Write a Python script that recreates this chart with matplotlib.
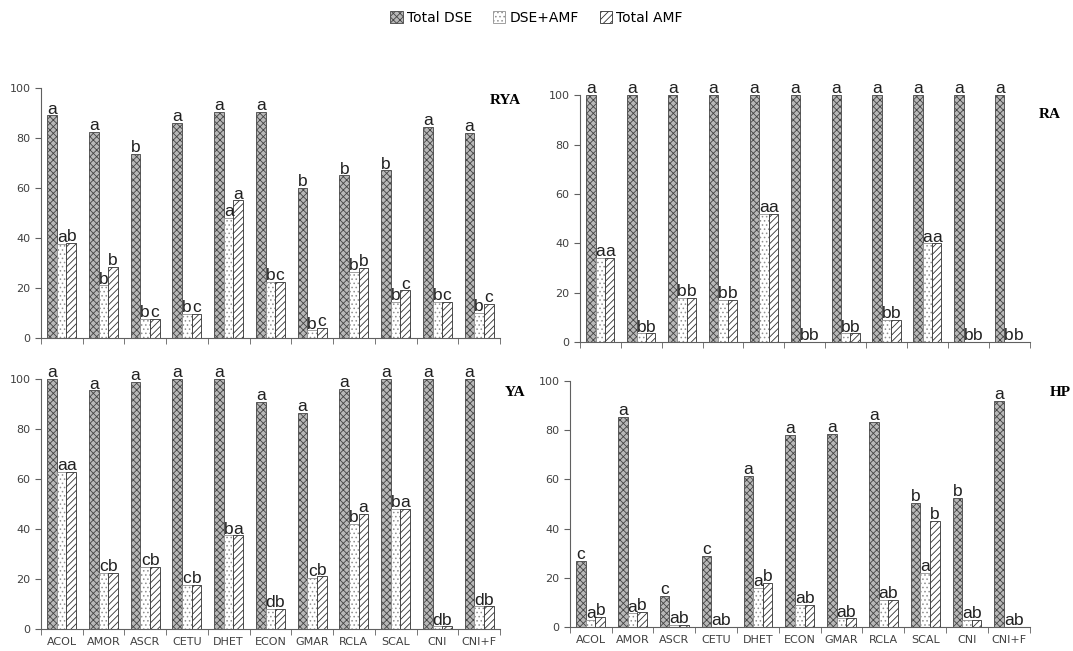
import matplotlib.pyplot as plt
import matplotlib.patches as mpatches
import numpy as np

plt.rcParams['hatch.linewidth'] = 0.6

species = ['ACOL', 'AMOR', 'ASCR', 'CETU', 'DHET', 'ECON', 'GMAR', 'RCLA', 'SCAL', 'CNI', 'CNI+F']
series = ['Total DSE', 'DSE+AMF', 'Total AMF']

# RYA
rya_dse = [89, 82.5, 73.5, 86, 90.5, 90.3, 60, 65, 67, 84.5, 82]
rya_both = [37.5, 21, 7.5, 9.5, 48, 22.5, 3, 26.5, 14.5, 14.3, 10]
rya_amf = [38, 28.5, 7.5, 9.5, 55, 22.5, 4, 28, 19, 14.3, 13.5]
rya_let_dse = ['a', 'a', 'b', 'a', 'a', 'a', 'b', 'b', 'b', 'a', 'a']
rya_let_both = ['a', 'b', 'b', 'b', 'a', 'b', 'b', 'b', 'b', 'b', 'b']
rya_let_amf = ['b', 'b', 'c', 'c', 'a', 'c', 'c', 'b', 'c', 'c', 'c']

# RA
ra_dse = [100, 100, 100, 100, 100, 100, 100, 100, 100, 100, 100]
ra_both = [34, 3.5, 18, 17, 52, 0, 3.5, 9, 40, 0, 0]
ra_amf = [34, 3.5, 18, 17, 52, 0, 3.5, 9, 40, 0, 0]
ra_let_dse = ['a'] * 11
ra_let_both = ['a', 'b', 'b', 'b', 'a', 'b', 'b', 'b', 'a', 'b', 'b']
ra_let_amf = ['a', 'b', 'b', 'b', 'a', 'b', 'b', 'b', 'a', 'b', 'b']

# YA
ya_dse = [100, 95.5, 99, 100, 100, 91, 86.5, 96, 100, 100, 100]
ya_both = [63, 22.5, 25, 17.5, 37.5, 8, 20.5, 42, 48, 1, 9]
ya_amf = [63, 22.5, 25, 17.5, 37.5, 8, 21, 46, 48, 1, 9]
ya_let_dse = ['a'] * 11
ya_let_both = ['a', 'c', 'c', 'c', 'b', 'd', 'c', 'b', 'b', 'd', 'd']
ya_let_amf = ['a', 'b', 'b', 'b', 'a', 'b', 'b', 'a', 'a', 'b', 'b']

# HP
hp_dse = [27, 85.5, 12.5, 29, 61.5, 78, 78.5, 83.5, 50.5, 52.5, 92]
hp_both = [3, 5.5, 1, 0, 16, 9, 3.5, 11, 22, 3, 0]
hp_amf = [4, 6, 1, 0, 18, 9, 3.5, 11, 43, 3, 0]
hp_let_dse = ['c', 'a', 'c', 'c', 'a', 'a', 'a', 'a', 'b', 'b', 'a']
hp_let_both = ['a'] * 11
hp_let_amf = ['b'] * 11

styles = [
    dict(facecolor='#b8b8b8', edgecolor='#454545', hatch='xxxxx'),
    dict(facecolor='white', edgecolor='#909090', hatch='....'),
    dict(facecolor='white', edgecolor='#303030', hatch='/////'),
]

fig = plt.figure(figsize=(10.73, 6.51), dpi=100)
positions = {
    'RYA': [0.038, 0.481, 0.428, 0.384],
    'RA': [0.5405, 0.4747, 0.419, 0.379],
    'YA': [0.038, 0.0338, 0.428, 0.384],
    'HP': [0.531, 0.0369, 0.4287, 0.378],
}
panels = [
    ('RYA', [rya_dse, rya_both, rya_amf], [rya_let_dse, rya_let_both, rya_let_amf], False, (505, 100)),
    ('RA', [ra_dse, ra_both, ra_amf], [ra_let_dse, ra_let_both, ra_let_amf], False, (1050, 115)),
    ('YA', [ya_dse, ya_both, ya_amf], [ya_let_dse, ya_let_both, ya_let_amf], True, (515, 392)),
    ('HP', [hp_dse, hp_both, hp_amf], [hp_let_dse, hp_let_both, hp_let_amf], True, (1060, 392)),
]

x = np.arange(len(species))
w = 0.23
for name, vals, lets, show_x, lab in panels:
    ax = fig.add_axes(positions[name])
    for k in range(3):
        xs = x + (k - 1) * w
        ax.bar(xs, vals[k], w, linewidth=0.6, **styles[k])
        for xi, v, t in zip(xs, vals[k], lets[k]):
            ax.text(xi, v - 0.5, t, ha='center', va='bottom', fontsize=12.5,
                    family='Liberation Sans', color='#202020', clip_on=False)
    ax.set_xlim(-0.5, len(species) - 0.5)
    ax.set_ylim(0, 100)
    ax.set_yticks(range(0, 101, 20))
    ax.set_xticks(x)
    ax.set_xticks(np.arange(-0.5, len(species), 1), minor=True)
    ax.tick_params(axis='x', which='major', length=0, pad=6)
    ax.tick_params(axis='x', which='minor', length=4, color='#606060')
    ax.tick_params(axis='y', length=4, color='#606060', labelsize=8, labelcolor='#404040')
    if show_x:
        ax.set_xticklabels(species, fontsize=8, color='#404040')
    else:
        ax.set_xticklabels([])
    for s in ['top', 'right']:
        ax.spines[s].set_visible(False)
    for s in ['left', 'bottom']:
        ax.spines[s].set_color('#606060')
    fig.text(lab[0] / 1073, 1 - lab[1] / 651, name, fontsize=11, fontweight='bold',
             family='Liberation Serif', ha='center', va='center')

handles = [mpatches.Patch(label=s, linewidth=0.6, **st) for s, st in zip(series, styles)]
fig.legend(handles=handles, loc='center', bbox_to_anchor=(0.5, 0.973), ncol=3, frameon=False,
           fontsize=10, handlelength=0.9, handleheight=0.9, handletextpad=0.3, columnspacing=1.5)

fig.savefig('out.png', dpi=100)
